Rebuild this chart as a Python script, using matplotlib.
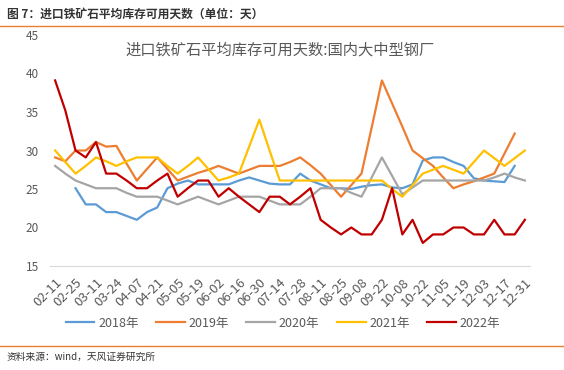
import numpy as np
import matplotlib
matplotlib.use('Agg')
from matplotlib import pyplot as plt
from matplotlib.lines import Line2D

plt.rcParams['font.family'] = ['Noto Sans CJK SC', 'DejaVu Sans']

nan = np.nan

# tick labels (every other week)
tick_labels = ['02-11', '02-25', '03-11', '03-24', '04-07', '04-21', '05-05', '05-19',
               '06-02', '06-16', '06-30', '07-14', '07-28', '08-11', '08-25', '09-08',
               '09-22', '10-08', '10-22', '11-05', '11-19', '12-03', '12-17', '12-31']

y2018 = [nan, nan, 25.1, 23.0, 23.0, 22.0, 22.0, 21.5, 21.0, 22.0, 22.6, 25.1, 25.7, 26.1,
         25.6, 25.6, 25.6, 25.6, 26.1, 26.5, 26.1, 25.7, 25.6, 25.6, 27.0, 26.1, 25.6, 25.1,
         25.1, 25.0, 25.3, 25.5, 25.6, 25.2, 25.1, 25.6, 28.7, 29.1, 29.1, 28.5, 28.0, 26.4,
         26.1, 26.0, 25.9, 28.0, nan]
y2019 = [29.1, 28.6, 30.0, 30.0, 31.1, 30.5, 30.6, 28.3, 26.1, 27.6, 29.1, 27.6, 26.1, 26.6,
         27.1, 27.5, 28.0, 27.5, 27.0, 27.5, 28.0, 28.0, 28.0, 28.5, 29.1, 28.1, 27.0, 25.5,
         24.0, 25.5, 27.0, 33.0, 39.1, 36.1, 33.1, 30.0, 29.0, 28.0, 26.5, 25.1, 25.6, 26.0,
         26.5, 27.0, 29.6, 32.2, nan]
y2020 = [28.0, 27.0, 26.1, 25.6, 25.1, 25.1, 25.1, 24.5, 24.0, 24.0, 24.0, 23.5, 23.0, 23.5,
         24.0, 23.5, 23.0, 23.5, 24.0, 24.0, 24.0, 23.5, 23.0, 23.0, 23.0, 24.0, 25.1, 25.1,
         25.1, 24.5, 24.0, 26.5, 29.1, 26.7, 24.3, 25.2, 26.1, 26.1, 26.1, 26.1, 26.1, 26.1,
         26.1, 26.5, 27.0, 26.5, 26.1]
y2021 = [30.0, 28.5, 27.0, 28.0, 29.1, 28.6, 28.0, 28.6, 29.1, 29.1, 29.1, 28.0, 27.0, 28.0,
         29.1, 27.6, 26.1, 26.5, 27.0, 30.5, 34.0, 30.0, 26.1, 26.1, 26.1, 26.1, 26.1, 26.1,
         26.1, 26.1, 26.1, 26.1, 26.1, 25.0, 24.0, 25.5, 27.0, 27.5, 28.0, 27.5, 27.0, 28.5,
         30.0, 29.0, 28.0, 29.0, 30.0]
y2022 = [39.1, 35.2, 30.0, 29.1, 31.1, 27.0, 27.0, 26.1, 25.1, 25.1, 26.1, 27.0, 24.0, 25.1,
         26.1, 26.1, 24.0, 25.1, 24.0, 23.0, 22.0, 24.0, 24.0, 23.0, 24.0, 25.1, 21.0, 20.0,
         19.1, 20.0, 19.1, 19.1, 21.0, 25.1, 19.1, 21.0, 18.0, 19.1, 19.1, 20.0, 20.0, 19.1,
         19.1, 21.0, 19.1, 19.1, 21.0]

series = [('2018年', y2018, '#5B9BD5'),
          ('2019年', y2019, '#ED7D31'),
          ('2020年', y2020, '#A5A5A5'),
          ('2021年', y2021, '#FFC000'),
          ('2022年', y2022, '#C00000')]

fig = plt.figure(figsize=(5.64, 3.70), dpi=100)
ax = fig.add_axes([50/564, 1-266/370, 480/564, 231/370])

x = np.arange(len(y2022))
for name, vals, col in series:
    ax.plot(x, vals, color=col, lw=1.6, label=name)

ax.set_xlim(-0.5, len(x) - 0.5)
ax.set_ylim(15, 45)
ax.set_yticks(range(15, 46, 5))
ax.set_xticks(x[::2])
ax.set_xticklabels(tick_labels, rotation=45, ha='right', rotation_mode='anchor')
ax.tick_params(axis='y', length=0, pad=8, labelsize=8.5, labelcolor='#595959')
ax.tick_params(axis='x', length=0, pad=7, labelsize=9.5, labelcolor='#595959')
for s in ['top', 'right', 'left']:
    ax.spines[s].set_visible(False)
ax.spines['bottom'].set_color('#D9D9D9')

fig.text(280/564, 1-50/370, '进口铁矿石平均库存可用天数:国内大中型钢厂',
         ha='center', va='center', fontsize=11, color='#595959')

fig.legend(loc='center', bbox_to_anchor=(283/564, 1-323/370), ncol=5, frameon=False,
           fontsize=9, handlelength=2.3, handletextpad=0.3, columnspacing=1.4,
           labelcolor='#595959')

fig.text(7/564, 1-14/370, '图 7：进口铁矿石平均库存可用天数（单位：天）',
         ha='left', va='center', fontsize=8.5, fontweight='bold', color='#333333')
fig.text(7/564, 1-357/370, '资料来源：wind，天风证券研究所',
         ha='left', va='center', fontsize=7, color='#333333')
fig.add_artist(Line2D([0, 1], [1-26/370, 1-26/370], color='#ED7D31', lw=1))
fig.add_artist(Line2D([0, 1], [1-346/370, 1-346/370], color='#ED7D31', lw=1))

plt.savefig('out.png', dpi=100)
